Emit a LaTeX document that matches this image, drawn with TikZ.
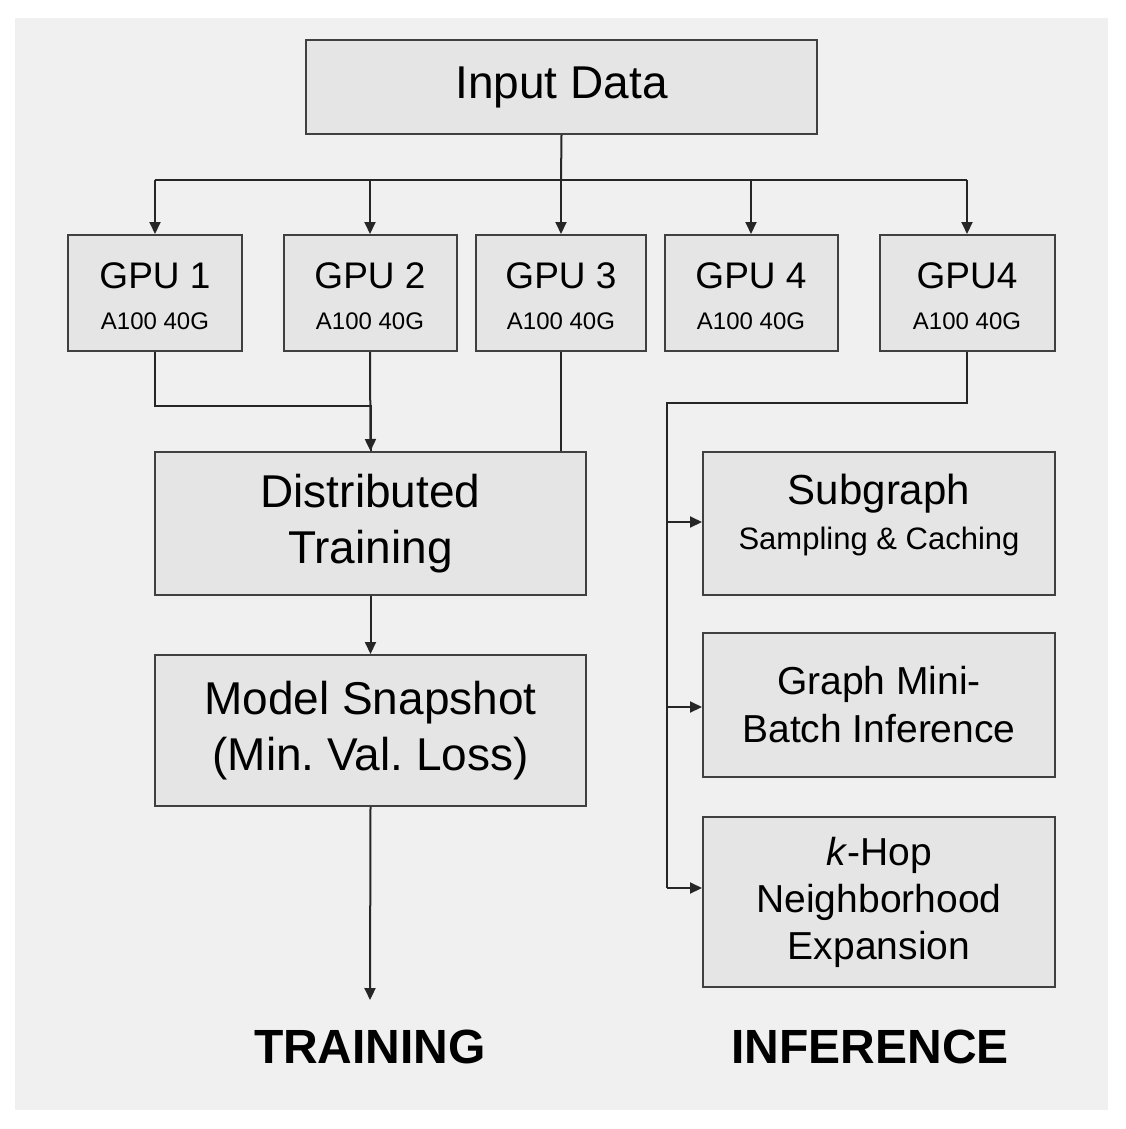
\documentclass[tikz,border=0pt]{standalone}
\usepackage{fontspec}
\setmainfont{Liberation Sans}
\usetikzlibrary{arrows.meta}
\begin{document}
\begin{tikzpicture}[x=1pt,y=-1pt,
 box/.style={draw=black!75,line width=2pt,fill=black!10,inner sep=0pt},
 con/.style={line width=2pt,draw=black!85},
 arr/.style={con,-{Triangle[length=12pt,width=11pt]}},
 big/.style={font=\fontsize{46}{56}\selectfont},
 lab/.style={font=\fontsize{48}{50}\selectfont\bfseries}]
\useasboundingbox (0,0) rectangle (1125,1129);
\fill[black!6] (15,18) rectangle (1108,1110);
\node[box,minimum width=511,minimum height=94] (in) at (561.5,87) {\fontsize{46}{50}\selectfont Input Data};
\foreach \n/\x/\w/\t in {g1/155/174/GPU 1,g2/370/173/GPU 2,g3/561/170/GPU 3,g4/751/173/GPU 4,g5/967/175/GPU4}{
 \node[box,minimum width=\w,minimum height=116] (\n) at (\x,293) {};
 \node[font=\fontsize{37}{40}\selectfont] (\n t) at (\x,276) {\t};
 \node[font=\fontsize{24}{26}\selectfont] (\n s) at (\x,321) {A100 40G};
}
\node[box,minimum width=431,minimum height=143,align=center,big] (dt) at (370.5,523.5) {Distributed\\Training};
\node[box,minimum width=431,minimum height=151,align=center,big] (ms) at (370.5,730.5) {Model Snapshot\\(Min.\ Val.\ Loss)};
\node[box,minimum width=352,minimum height=143] (sg) at (879,523.5) {};
\node[font=\fontsize{42}{46}\selectfont] (sgt) at (879,494) {Subgraph};
\node[font=\fontsize{31}{34}\selectfont] (sgs) at (879,541) {Sampling \& Caching};
\node[box,minimum width=352,minimum height=144,align=center,font=\fontsize{39}{48}\selectfont] (gm) at (879,705) {Graph Mini-\\Batch Inference};
\node[box,minimum width=352,minimum height=170,align=center,font=\fontsize{39}{47}\selectfont] (kh) at (879,902) {\textit{k}-Hop\\Neighborhood\\Expansion};
\node[lab] (tr) at (370,1047) {TRAINING};
\node[lab] (inf) at (870,1047) {INFERENCE};
\coordinate (h) at (561,180);
\draw[con] (in.south) -- (h);
\draw[con] (g1.north|-h) -- (g5.north|-h);
\foreach \n in {g1,g2,g3,g4,g5} \draw[arr] (\n.north|-h) -- (\n.north);
\draw[con] (g1.south) -- ++(0,54) -| (dt.north);
\draw[arr] (g2.south) -- (dt.north);
\draw[con] (g3.south) -- (g3.south|-dt.north);
\draw[arr] (dt.south) -- (ms.north);
\coordinate (te) at (370,1000);
\draw[arr] (ms.south) -- (te);
\coordinate (r) at (667,403);
\draw[con] (g5.south) |- (r) -- (667,888);
\draw[arr] (667,522) -- (sg.west|-0,522);
\draw[arr] (667,707) -- (gm.west|-0,707);
\draw[arr] (667,888) -- (kh.west|-0,888);
\end{tikzpicture}
\end{document}
